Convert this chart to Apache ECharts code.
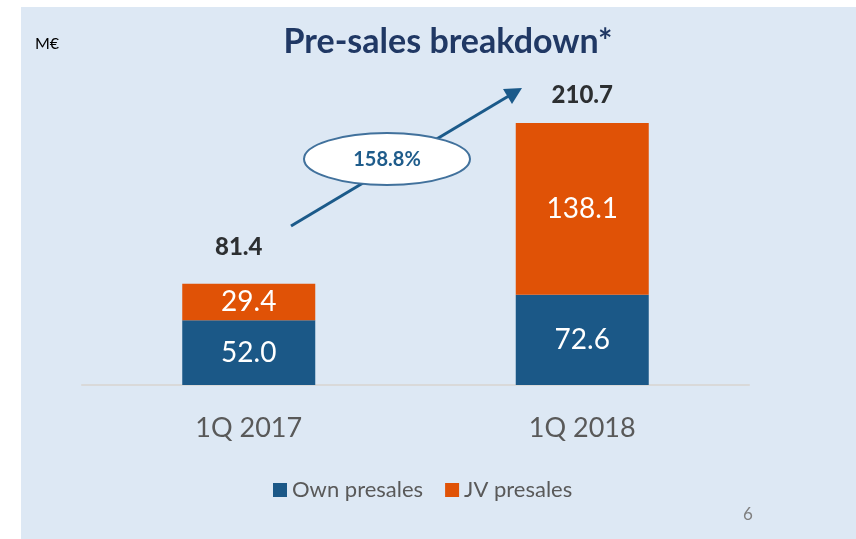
<!DOCTYPE html>
<html><head><meta charset="utf-8">
<script src="https://cdn.jsdelivr.net/npm/echarts@6/dist/echarts.min.js"></script>
<style>html,body{margin:0;padding:0;background:#fff}#c{width:856px;height:539px}</style>
</head><body><div id="c"></div>
<script>
const categories = ['1Q 2017', '1Q 2018'];
const ownPresales = [52.0, 72.6];
const jvPresales = [29.4, 138.1];
const totals = [81.4, 210.7];
const growthLabel = '158.8%';

const font = 'Lato, "Open Sans", sans-serif';
const totalOffsets = [[-10, -6], [0, 2]];

const chart = echarts.init(document.getElementById('c'));
chart.setOption({
  animation: false,
  backgroundColor: '#ffffff',
  graphic: [
    { type: 'rect', shape: { x: 21, y: 7, width: 835, height: 532 }, style: { fill: '#dde8f4' }, z: -10 },
    { type: 'text', left: 35, top: 36, style: { text: 'M€', font: '16px ' + font, fill: '#000' } },
    { type: 'text', left: 743, top: 506, style: { text: '6', font: '17px ' + font, fill: '#7f7f7f' } },
    { type: 'line', shape: { x1: 291, y1: 226, x2: 512, y2: 94 }, style: { stroke: '#1b5a8a', lineWidth: 3 }, z: 10 },
    { type: 'polygon', shape: { points: [[522, 88], [503, 89], [512, 104]] }, style: { fill: '#1b5a8a' }, z: 10 },
    { type: 'ellipse', shape: { cx: 387, cy: 159, rx: 83, ry: 26 }, style: { fill: '#ffffff', stroke: '#41719c', lineWidth: 2 }, z: 11 },
    { type: 'text', x: 387, y: 160, style: { text: growthLabel, font: 'bold 20px ' + font, fill: '#1f5c8b', align: 'center', verticalAlign: 'middle' }, z: 12 }
  ],
  title: {
    text: 'Pre-sales breakdown*', left: 443, top: 20, textAlign: 'center',
    textStyle: { fontFamily: font, fontSize: 34, fontWeight: 'bold', color: '#203864' }
  },
  legend: {
    data: ['Own presales', 'JV presales'],
    left: 268, top: 474, itemWidth: 14, itemHeight: 14, itemGap: 22,
    icon: 'rect',
    textStyle: { fontFamily: font, fontSize: 22, color: '#595959', padding: [0, 0, 0, 0] }
  },
  grid: { left: 82, right: 107, top: 74, bottom: 154 },
  xAxis: {
    type: 'category', data: categories,
    axisLine: { lineStyle: { color: '#d9d9d9', width: 2 } },
    axisTick: { show: false },
    axisLabel: { fontFamily: font, fontSize: 27, color: '#595959', margin: 30 }
  },
  yAxis: { type: 'value', min: 0, max: 250, show: false, splitLine: { show: false } },
  series: [
    {
      name: 'Own presales', type: 'bar', stack: 't', data: ownPresales, barWidth: 133,
      itemStyle: { color: '#1b5887' },
      label: { show: true, position: 'inside', fontFamily: font, fontSize: 28, color: '#fff', formatter: p => p.value.toFixed(1) }
    },
    {
      name: 'JV presales', type: 'bar', stack: 't', data: jvPresales, barWidth: 133,
      itemStyle: { color: '#e05206' },
      label: { show: true, position: 'inside', fontFamily: font, fontSize: 28, color: '#fff', formatter: p => p.value.toFixed(1) }
    },
    {
      name: 'Total', type: 'scatter', symbolSize: 0, silent: true,
      data: totals.map((v, i) => ({ value: v, label: { offset: totalOffsets[i] } })),
      label: { show: true, position: 'top', distance: 18, fontFamily: font, fontSize: 24, fontWeight: 900, color: '#000', formatter: p => p.value.toFixed(1) }
    }
  ]
});
</script></body></html>
